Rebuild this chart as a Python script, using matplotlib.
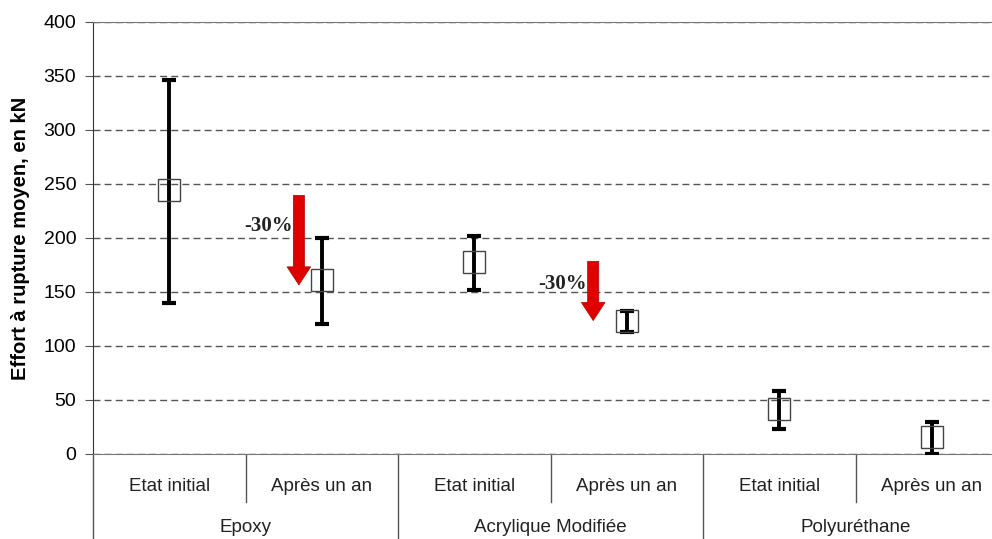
import numpy as np
import matplotlib
matplotlib.use("Agg")
import matplotlib.pyplot as plt

plt.rcParams['font.family'] = ['Liberation Sans', 'DejaVu Sans']

# data
groups = ["Epoxy", "Acrylique Modifiée", "Polyuréthane"]
states = ["Etat initial", "Après un an"]
means = [244, 161, 178, 123, 42, 16]
lows = [140, 120, 152, 113, 23, 0]
highs = [346, 200, 202, 132, 58, 30]
arrowX = [0.85, 2.78]
arrowStart = [242, 181]
arrowEnd = [154, 121]
arrowText = ["-30%", "-30%"]
arrowTextY = [211, 157]

###################################################################################################

fig = plt.figure(figsize=(9.92, 5.39), dpi=100)
ax = fig.add_axes([93/992, 85/539, 915/992, 432/539])

x = np.arange(len(means))
y = np.array(means)
yerr = np.array([y - np.array(lows), np.array(highs) - y])

ax.errorbar(x, y, yerr=yerr, fmt="none", ecolor="black", elinewidth=2.8,
            capsize=5, capthick=3, zorder=3)
ax.plot(x, y, "s", markersize=15.5, markerfacecolor="none", markeredgecolor="#444444",
        markeredgewidth=1.0, zorder=4)

# red arrows with -30% labels
for i in range(len(arrowX)):
    ax.annotate("", xy=(arrowX[i], arrowEnd[i]), xytext=(arrowX[i], arrowStart[i]),
                arrowprops=dict(arrowstyle="simple,head_width=1.7,head_length=1.3,tail_width=0.8",
                                facecolor="#e00000", edgecolor="#b00000", lw=0.5), zorder=5)
    ax.text(arrowX[i] - 0.04, arrowTextY[i], arrowText[i], family="Liberation Serif",
            fontweight="bold", fontsize=15, ha="right", va="center", color="#222222")

ax.set_xlim(-0.5, len(means) - 0.5)
ax.set_ylim(0, 400)
ax.set_yticks(range(0, 401, 50))
ax.yaxis.grid(True, linestyle=(0, (5, 3)), color="#555555", linewidth=1.0)
ax.set_axisbelow(True)
ax.set_xticks([])
ax.tick_params(axis="y", labelsize=14, length=6, pad=6, color="#555555")
for s in ax.spines.values():
    s.set_color("#777777")
ax.spines["left"].set_color("#333333")
ax.set_ylabel("Effort à rupture moyen, en kN", fontsize=14.5, fontweight="bold", labelpad=10)

# category table under the axis
trans = ax.get_xaxis_transform()
for i in range(len(means)):
    ax.text(i, -0.075, states[i % 2], transform=trans, ha="center", va="center",
            fontsize=13.5, color="#222222")
for g in range(len(groups)):
    ax.text(2 * g + 0.5, -0.17, groups[g], transform=trans, ha="center", va="center",
            fontsize=13.5, color="#222222")
for b in range(len(means) + 1):
    bottom = -0.2 if b % 2 == 0 else -0.11
    ax.plot([b - 0.5, b - 0.5], [0, bottom], transform=trans, color="#555555",
            linewidth=1.0, clip_on=False)

fig.savefig("out.png", dpi=100)
